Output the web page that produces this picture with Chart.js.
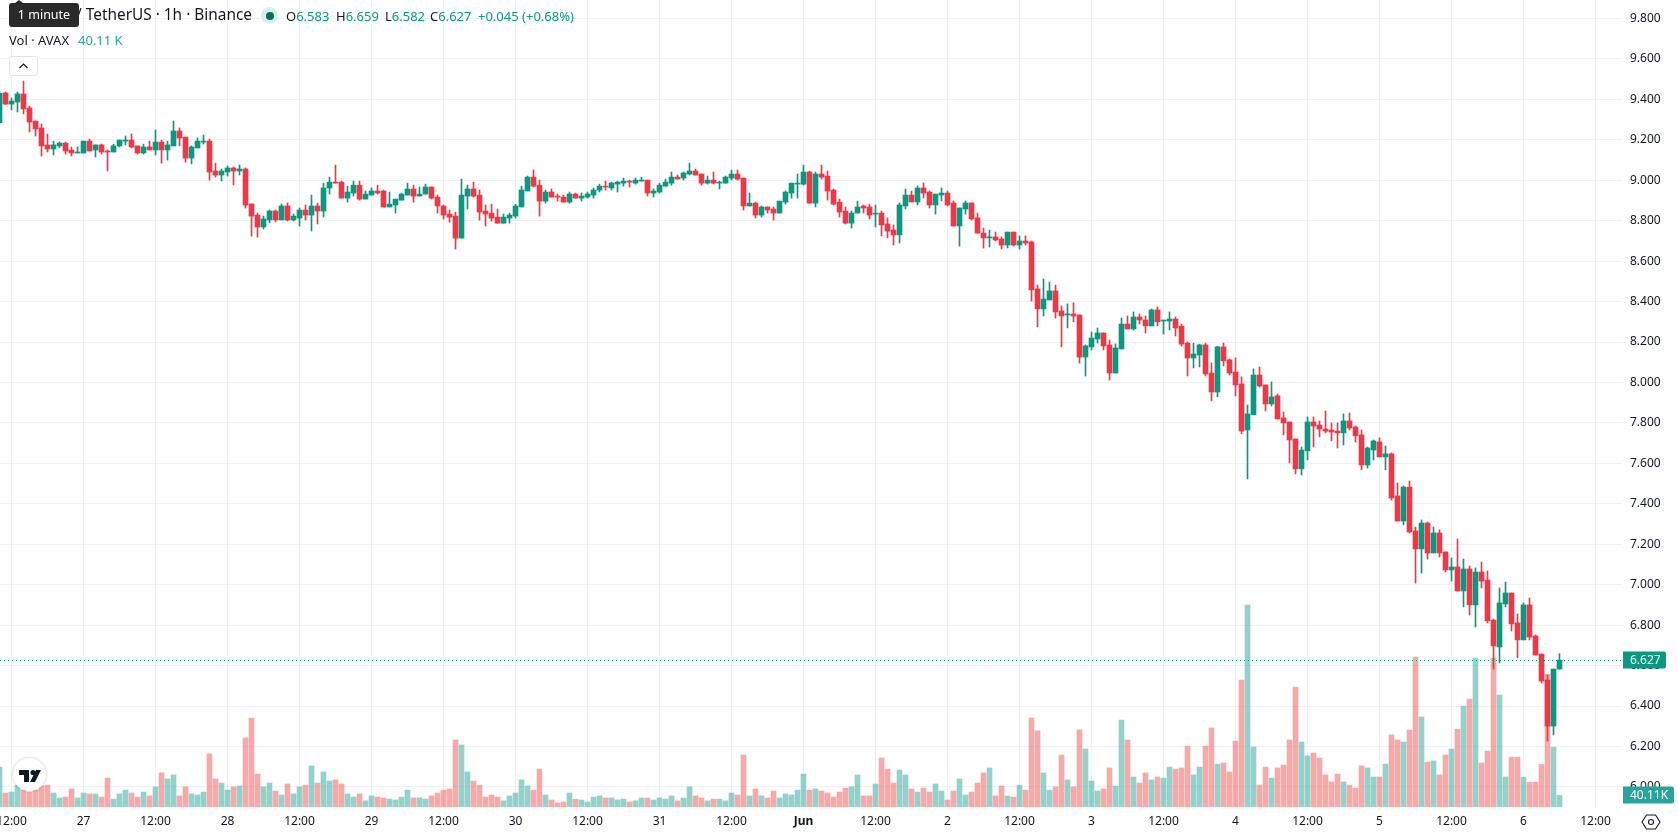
<!DOCTYPE html>
<html>
<head>
<meta charset="utf-8">
<title>AVAX / TetherUS 1h</title>
<script src="https://cdn.jsdelivr.net/npm/chart.js@4/dist/chart.umd.min.js"></script>
<style>
  html, body { margin: 0; padding: 0; background: #fff; }
  body { width: 1678px; height: 835px; overflow: hidden; position: relative; font-family: "Noto Sans", sans-serif; color: #131722; }
  canvas { position: absolute; left: 0; top: 0; }
  .t { position: absolute; white-space: nowrap; line-height: 18px; }
  .up { color: #089981; }
  #tip { position: absolute; left: 9px; top: 3px; width: 70px; height: 24px; background: #2a2a2b; border-radius: 3px; color: #fff; font-size: 12.5px; line-height: 24px; text-align: center; }
  #tipArrow { position: absolute; left: 15px; top: 0; border: 4px solid transparent; border-top: 0; border-bottom: 3px solid #2a2a2b; }
  #dot { position: absolute; left: 261px; top: 7px; width: 17px; height: 17px; border-radius: 50%; background: #d8eeea; }
  #dot i { position: absolute; left: 4.5px; top: 4.5px; width: 8px; height: 8px; border-radius: 50%; background: #0b6b5c; }
  #fold { position: absolute; left: 9px; top: 56px; width: 27px; height: 18px; border: 1px solid #e0e3eb; border-radius: 3px; background: #fff; }
  #logo { position: absolute; left: 13px; top: 758px; width: 33px; height: 33px; border-radius: 50%; background: #fff; box-shadow: 0 0 2px 1px rgba(0,0,0,.12); }
  #gear { position: absolute; left: 1641px; top: 812px; }
</style>
</head>
<body>
<canvas id="chart" width="1678" height="835"></canvas>

<div class="t" style="left:76px;top:6px;font-size:15.4px">/ TetherUS · 1h · Binance</div>
<div id="tipArrow"></div>
<div id="tip">1 minute</div>
<div id="dot"><i></i></div>
<div class="t" style="left:286px;top:7px;font-size:13px">O<span class="up">6.583</span></div>
<div class="t" style="left:336px;top:7px;font-size:13px">H<span class="up">6.659</span></div>
<div class="t" style="left:385px;top:7px;font-size:13px">L<span class="up">6.582</span></div>
<div class="t" style="left:430px;top:7px;font-size:13px">C<span class="up">6.627</span></div>
<div class="t up" style="left:478px;top:7px;font-size:13px">+0.045 (+0.68%)</div>
<div class="t" style="left:9px;top:31px;font-size:13px">Vol · AVAX</div>
<div class="t" style="left:78px;top:31px;font-size:13px;color:#26a69a">40.11 K</div>
<div id="fold"><svg width="27" height="18" viewBox="0 0 27 18"><path d="M9.5 11 L13.5 7 L17.5 11" fill="none" stroke="#131722" stroke-width="1.2"/></svg></div>
<div id="logo"><svg width="33" height="33" viewBox="0 0 33 33"><path d="M6 12 H16 V24 H11 V17 H6 Z" fill="#131722"/><circle cx="20" cy="14.5" r="2.6" fill="#131722"/><path d="M23 12 H28 L22 24 H17 Z" fill="#131722"/></svg></div>
<svg id="gear" width="20" height="20" viewBox="0 0 20 20"><path d="M5.5 3 H14.5 L19 10 L14.5 17 H5.5 L1 10 Z" fill="none" stroke="#131722" stroke-width="1.1"/><circle cx="10" cy="10" r="2.5" fill="none" stroke="#131722" stroke-width="1.1"/></svg>

<script>
// Hourly AVAX/USDT candles, 26 May 10:00 to 6 Jun 06:00.
const firstHour = -2; // hours relative to 26 May 12:00

const opens = [
  9.285,9.432,9.377,9.387,9.427,9.358,9.293,9.259,9.175,9.155,
  9.170,9.184,9.150,9.135,9.135,9.194,9.150,9.175,9.145,9.140,
  9.170,9.194,9.199,9.170,9.135,9.165,9.150,9.189,9.150,9.170,
  9.244,9.214,9.110,9.160,9.189,9.194,9.046,9.026,9.041,9.061,
  9.046,9.056,8.883,8.828,8.769,8.804,8.848,8.804,8.873,8.804,
  8.813,8.853,8.828,8.873,8.848,8.962,8.991,8.991,8.912,8.937,
  8.976,8.907,8.927,8.947,8.947,8.868,8.878,8.902,8.927,8.957,
  8.922,8.932,8.967,8.917,8.873,8.833,8.823,8.714,8.922,8.957,
  8.927,8.848,8.838,8.818,8.788,8.813,8.823,8.868,8.947,9.016,
  8.976,8.897,8.942,8.922,8.917,8.892,8.932,8.912,8.917,8.927,
  8.952,8.971,8.962,8.981,8.986,8.996,8.986,8.996,9.001,8.937,
  8.942,8.971,8.986,9.016,9.011,9.031,9.046,9.031,8.986,9.001,
  8.986,8.986,9.011,9.031,9.011,8.873,8.887,8.828,8.868,8.858,
  8.838,8.892,8.937,8.981,8.981,9.041,8.887,9.031,9.021,8.952,
  8.892,8.848,8.788,8.838,8.873,8.868,8.833,8.838,8.784,8.754,
  8.730,8.873,8.927,8.893,8.962,8.942,8.878,8.927,8.937,8.888,
  8.774,8.858,8.888,8.814,8.739,8.715,8.720,8.710,8.680,8.744,
  8.680,8.700,8.695,8.463,8.364,8.408,8.453,8.354,8.334,8.339,
  8.334,8.126,8.176,8.215,8.245,8.186,8.047,8.166,8.289,8.265,
  8.324,8.309,8.280,8.359,8.304,8.304,8.314,8.279,8.195,8.121,
  8.136,8.186,8.047,7.953,8.176,8.112,8.052,7.993,7.765,7.840,
  8.037,7.988,7.894,7.934,7.825,7.805,7.721,7.573,7.662,7.805,
  7.790,7.770,7.765,7.760,7.751,7.810,7.780,7.741,7.592,7.666,
  7.706,7.632,7.647,7.439,7.315,7.483,7.266,7.177,7.305,7.157,
  7.256,7.162,7.073,7.088,6.969,7.078,6.900,7.063,7.023,6.825,
  6.692,6.905,6.959,6.811,6.727,6.900,6.746,6.657,6.529,6.301,
  6.583
];
const highs = [
  9.440,9.437,9.407,9.437,9.491,9.367,9.293,9.278,9.229,9.194,
  9.189,9.189,9.165,9.165,9.194,9.204,9.175,9.179,9.150,9.179,
  9.199,9.219,9.229,9.170,9.179,9.194,9.249,9.199,9.194,9.293,
  9.259,9.214,9.170,9.209,9.224,9.204,9.085,9.056,9.071,9.066,
  9.076,9.061,8.883,8.838,8.823,8.853,8.853,8.883,8.888,8.833,
  8.863,8.878,8.927,8.887,8.986,9.016,9.075,8.996,8.971,8.996,
  8.996,8.947,8.962,8.976,8.952,8.942,8.907,8.937,8.986,8.976,
  8.967,8.981,8.967,8.927,8.878,8.853,8.843,9.006,8.976,8.991,
  8.952,8.878,8.882,8.858,8.833,8.838,8.882,8.971,9.021,9.051,
  9.001,8.952,8.957,8.932,8.927,8.942,8.937,8.937,8.942,8.962,
  8.981,8.996,8.991,8.996,9.011,9.001,9.011,9.016,9.001,8.957,
  8.986,9.006,9.041,9.026,9.041,9.085,9.056,9.031,9.021,9.041,
  8.996,9.021,9.051,9.051,9.011,8.937,8.892,8.873,8.868,8.868,
  8.897,8.947,8.986,9.031,9.075,9.046,9.041,9.075,9.046,8.957,
  8.907,8.868,8.848,8.897,8.878,8.882,8.878,8.848,8.814,8.779,
  8.888,8.957,8.947,8.972,8.987,8.947,8.932,8.962,8.947,8.898,
  8.863,8.898,8.888,8.838,8.764,8.754,8.744,8.720,8.744,8.744,
  8.725,8.725,8.700,8.482,8.512,8.497,8.482,8.379,8.389,8.394,
  8.334,8.186,8.250,8.270,8.245,8.210,8.191,8.319,8.329,8.349,
  8.339,8.329,8.364,8.374,8.309,8.349,8.324,8.289,8.200,8.195,
  8.190,8.195,8.097,8.180,8.195,8.117,8.121,8.028,7.889,8.067,
  8.077,7.988,8.003,7.943,7.854,7.805,7.721,7.681,7.830,7.830,
  7.810,7.859,7.800,7.800,7.845,7.849,7.785,7.765,7.681,7.716,
  7.726,7.686,7.652,7.503,7.488,7.513,7.285,7.320,7.310,7.285,
  7.271,7.162,7.132,7.226,7.127,7.093,7.083,7.112,7.068,6.830,
  6.984,7.013,6.959,6.855,6.910,6.934,6.751,6.657,6.553,6.583,
  6.659
];
const lows = [
  9.280,9.375,9.348,9.338,9.328,9.239,9.219,9.120,9.140,9.125,
  9.160,9.130,9.120,9.135,9.135,9.145,9.115,9.130,9.046,9.140,
  9.165,9.175,9.160,9.130,9.130,9.150,9.125,9.085,9.100,9.170,
  9.170,9.090,9.081,9.160,9.179,9.001,9.016,8.996,9.021,8.977,
  9.026,8.863,8.724,8.719,8.759,8.789,8.794,8.804,8.799,8.799,
  8.774,8.803,8.749,8.784,8.818,8.932,8.986,8.912,8.892,8.922,
  8.902,8.907,8.927,8.932,8.868,8.868,8.838,8.902,8.927,8.892,
  8.922,8.932,8.907,8.838,8.808,8.793,8.660,8.714,8.858,8.917,
  8.803,8.774,8.798,8.788,8.788,8.788,8.813,8.868,8.947,8.967,
  8.823,8.887,8.917,8.897,8.892,8.887,8.912,8.897,8.912,8.912,
  8.942,8.952,8.952,8.942,8.971,8.967,8.981,8.996,8.922,8.917,
  8.937,8.971,8.976,9.006,9.001,9.026,9.026,8.976,8.981,8.981,
  8.957,8.986,9.001,9.001,8.853,8.873,8.813,8.818,8.838,8.803,
  8.838,8.882,8.912,8.912,8.976,8.887,8.868,9.006,8.902,8.878,
  8.818,8.784,8.764,8.838,8.838,8.808,8.769,8.725,8.715,8.680,
  8.690,8.858,8.893,8.878,8.913,8.863,8.833,8.898,8.873,8.774,
  8.675,8.833,8.804,8.739,8.665,8.670,8.700,8.660,8.665,8.675,
  8.660,8.680,8.403,8.275,8.329,8.408,8.319,8.176,8.270,8.300,
  8.096,8.032,8.161,8.195,8.161,8.012,8.047,8.166,8.265,8.260,
  8.289,8.245,8.280,8.280,8.240,8.260,8.230,8.180,8.032,8.072,
  8.077,8.032,7.909,7.929,8.082,8.037,7.934,7.746,7.523,7.840,
  7.978,7.859,7.884,7.820,7.741,7.602,7.548,7.543,7.617,7.681,
  7.731,7.751,7.711,7.676,7.691,7.765,7.706,7.568,7.577,7.617,
  7.632,7.568,7.419,7.315,7.296,7.256,7.008,7.058,7.127,7.157,
  7.137,7.063,7.018,6.969,6.890,6.850,6.791,6.984,6.811,6.583,
  6.613,6.890,6.771,6.638,6.727,6.727,6.652,6.514,6.227,6.257,
  6.582
];
const closes = [
  9.430,9.377,9.392,9.427,9.353,9.288,9.254,9.170,9.155,9.175,
  9.184,9.145,9.135,9.140,9.194,9.145,9.175,9.140,9.140,9.170,
  9.199,9.199,9.165,9.135,9.165,9.150,9.189,9.150,9.175,9.244,
  9.209,9.110,9.165,9.194,9.194,9.041,9.026,9.046,9.061,9.046,
  9.056,8.878,8.823,8.769,8.809,8.848,8.804,8.873,8.804,8.823,
  8.853,8.828,8.873,8.848,8.962,8.991,8.986,8.912,8.942,8.976,
  8.907,8.932,8.947,8.937,8.868,8.882,8.907,8.932,8.957,8.922,
  8.932,8.967,8.912,8.873,8.828,8.818,8.714,8.927,8.957,8.922,
  8.843,8.833,8.813,8.788,8.818,8.828,8.873,8.952,9.016,8.971,
  8.897,8.942,8.917,8.917,8.892,8.932,8.912,8.922,8.932,8.952,
  8.971,8.967,8.986,8.991,8.996,8.991,9.001,9.001,8.937,8.947,
  8.976,8.991,9.016,9.006,9.036,9.046,9.026,8.986,9.001,8.986,
  8.991,9.016,9.031,9.006,8.873,8.887,8.828,8.868,8.853,8.838,
  8.897,8.942,8.986,8.986,9.041,8.887,9.031,9.016,8.947,8.882,
  8.843,8.788,8.838,8.868,8.863,8.828,8.838,8.779,8.749,8.730,
  8.878,8.927,8.893,8.962,8.937,8.878,8.932,8.937,8.878,8.774,
  8.863,8.888,8.809,8.739,8.715,8.720,8.705,8.680,8.744,8.680,
  8.700,8.690,8.458,8.364,8.413,8.453,8.349,8.329,8.339,8.329,
  8.126,8.181,8.220,8.245,8.181,8.047,8.171,8.289,8.265,8.324,
  8.309,8.280,8.359,8.300,8.309,8.314,8.270,8.190,8.121,8.141,
  8.186,8.042,7.953,8.176,8.107,8.047,7.988,7.760,7.845,8.037,
  7.983,7.894,7.929,7.820,7.800,7.716,7.573,7.666,7.805,7.785,
  7.770,7.760,7.755,7.751,7.810,7.775,7.736,7.592,7.676,7.711,
  7.632,7.647,7.429,7.315,7.483,7.261,7.177,7.305,7.157,7.256,
  7.157,7.073,7.088,6.969,7.078,6.900,7.063,7.018,6.821,6.697,
  6.910,6.959,6.806,6.727,6.900,6.741,6.652,6.524,6.301,6.583,
  6.627
];
// Traded volume per hour, thousands of AVAX.
const volumes = [
  137,48,51,75,58,51,58,72,75,48,
  31,34,62,31,48,45,45,34,99,27,
  45,58,48,34,51,38,69,117,96,110,
  38,69,45,41,51,182,96,82,58,69,
  72,237,305,113,69,82,55,41,79,45,
  69,75,141,82,120,89,93,79,45,34,
  45,21,38,34,31,27,24,34,58,31,
  31,27,38,48,58,62,230,213,120,89,
  75,34,41,34,21,38,48,93,72,58,
  130,41,24,14,17,48,27,24,17,34,
  38,31,31,24,27,17,21,31,31,24,
  31,27,38,21,31,69,38,31,21,27,
  27,21,48,41,178,38,62,38,31,55,
  31,45,41,58,113,58,62,55,48,34,
  51,65,69,110,38,38,79,168,130,82,
  127,110,62,51,65,51,79,55,24,55,
  96,41,51,82,117,134,38,72,38,34,
  75,58,305,261,117,58,69,178,93,69,
  264,199,89,55,62,134,72,298,230,103,
  82,117,93,103,99,137,130,134,209,110,
  137,209,271,147,151,120,226,435,693,206,
  75,137,99,134,144,230,411,223,175,185,
  168,110,86,113,86,75,65,141,134,103,
  103,147,247,230,223,264,514,309,154,158,
  110,178,199,267,346,370,511,151,192,511,
  384,103,171,171,102,85,85,146,455,205,
  40.11
];
const timeLabels = ['12:00','27','12:00','28','12:00','29','12:00','30','12:00','31','12:00','Jun','12:00','2','12:00','3','12:00','4','12:00','5','12:00','6','12:00'];
const priceTicks = [6.0,6.2,6.4,6.6,6.8,7.0,7.2,7.4,7.6,7.8,8.0,8.2,8.4,8.6,8.8,9.0,9.2,9.4,9.6,9.8];
const lastPriceText = '6.627';
const lastVolumeText = '40.11K';

const UP = '#089981', DOWN = '#f23645';
const UP_VOL = 'rgba(38,166,154,0.5)', DOWN_VOL = 'rgba(239,83,80,0.5)';
const GRID = '#f0f1f4';
const FONT = '"Noto Sans", sans-serif';

const hourAt = i => firstHour + i;
const isUp = i => closes[i] >= opens[i];
const colours = opens.map((_, i) => isUp(i) ? UP : DOWN);
const volColours = opens.map((_, i) => isUp(i) ? UP_VOL : DOWN_VOL);

// Price tags in the right-hand axis gutter, plus the dotted last-price line.
const lastValuePlugin = {
  id: 'lastValue',
  afterDatasetsDraw(chart) {
    const { ctx, chartArea, scales } = chart;
    const closeNow = closes[closes.length - 1];
    const py = Math.round(scales.y.getPixelForValue(closeNow));
    ctx.save();
    ctx.strokeStyle = UP;
    ctx.setLineDash([1, 3]);
    ctx.lineWidth = 1;
    ctx.beginPath();
    ctx.moveTo(chartArea.left, py + 0.5);
    ctx.lineTo(chartArea.right, py + 0.5);
    ctx.stroke();
    ctx.restore();
  },
  afterDraw(chart) {
    const { ctx, chartArea, scales } = chart;
    const closeNow = closes[closes.length - 1];
    const py = Math.round(scales.y.getPixelForValue(closeNow));
    const left = chartArea.right + 1;
    const tag = (text, cy, w, colour) => {
      ctx.save();
      ctx.fillStyle = colour;
      ctx.beginPath();
      ctx.roundRect(left, cy - 8.5, w, 17, [0, 2, 2, 0]);
      ctx.fill();
      ctx.fillStyle = '#fff';
      ctx.font = '12px ' + FONT;
      ctx.textBaseline = 'middle';
      ctx.textAlign = 'left';
      ctx.fillText(text, left + 7, cy + 0.5);
      ctx.restore();
    };
    tag(lastPriceText, py, 43, UP);
    tag(lastVolumeText, 795, 51, '#26a69a');
  }
};

new Chart(document.getElementById('chart'), {
  type: 'bar',
  plugins: [lastValuePlugin],
  data: {
    datasets: [
      {
        label: 'Volume',
        yAxisID: 'yVol',
        order: 3,
        grouped: false,
        barThickness: 5,
        backgroundColor: volColours,
        data: volumes.map((v, i) => ({ x: hourAt(i), y: v }))
      },
      {
        label: 'Wick',
        yAxisID: 'y',
        order: 2,
        grouped: false,
        barThickness: 1,
        backgroundColor: colours,
        data: opens.map((_, i) => ({ x: hourAt(i), y: [lows[i], highs[i]] }))
      },
      {
        label: 'Body',
        yAxisID: 'y',
        order: 1,
        grouped: false,
        barThickness: 5,
        backgroundColor: colours,
        data: opens.map((_, i) => ({ x: hourAt(i), y: [Math.min(opens[i], closes[i]), Math.max(opens[i], closes[i])] }))
      }
    ]
  },
  options: {
    responsive: false,
    animation: false,
    events: [],
    layout: { padding: 0 },
    plugins: { legend: { display: false }, tooltip: { enabled: false }, title: { display: false } },
    scales: {
      x: {
        type: 'linear',
        offset: false,
        min: -11.5 / 6,
        max: (1622 - 11.5) / 6,
        border: { display: false },
        grid: { color: GRID, lineWidth: 1, drawTicks: false, offset: false },
        afterBuildTicks(s) { s.ticks = timeLabels.map((_, k) => ({ value: k * 12 })); },
        afterFit(s) { s.height = 28; s.paddingLeft = 0; s.paddingRight = 0; },
        ticks: {
          autoSkip: false,
          maxRotation: 0,
          padding: 7,
          color: '#131722',
          font: ctx => ({ family: FONT, size: 12, weight: timeLabels[ctx.index] === 'Jun' ? 'bold' : 'normal' }),
          callback: (value, index) => timeLabels[index]
        }
      },
      y: {
        type: 'linear',
        position: 'right',
        min: 9 - (807 - 180.3) / 202.2,
        max: 9 + 180.3 / 202.2,
        border: { display: false },
        grid: { color: GRID, lineWidth: 1, drawTicks: false },
        afterBuildTicks(s) { s.ticks = priceTicks.map(v => ({ value: v })); },
        afterFit(s) { s.width = 56; s.paddingTop = 0; s.paddingBottom = 0; },
        ticks: {
          padding: 8,
          color: '#131722',
          font: { family: FONT, size: 12 },
          callback: v => v.toFixed(3)
        }
      },
      yVol: {
        type: 'linear',
        display: false,
        min: 0,
        max: 2768
      }
    }
  }
});

if (![highs, lows, closes, volumes].every(a => a.length === opens.length)) {
  throw new Error('series lengths differ');
}
</script>
</body>
</html>
